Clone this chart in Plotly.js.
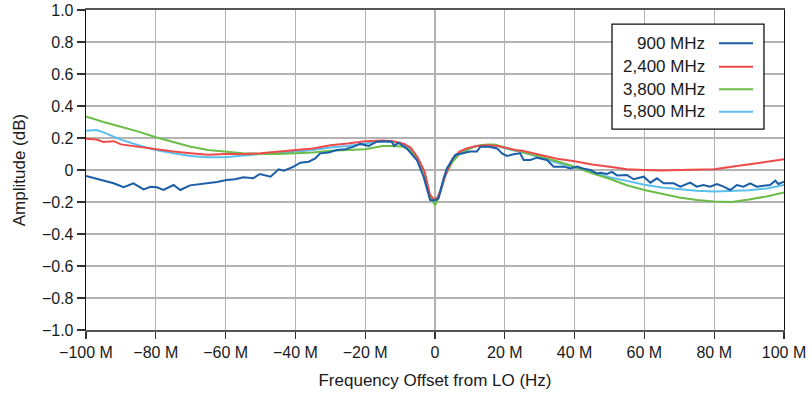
<!DOCTYPE html>
<html>
<head>
<meta charset="utf-8">
<script src="https://cdn.plot.ly/plotly-3.0.1.min.js"></script>
<style>
  html, body { margin: 0; padding: 0; background: #fff; }
  #chart { width: 812px; height: 395px; }
</style>
</head>
<body>
<div id="chart"></div>
<script>
// Flatness of the mixer response versus offset from the LO, per LO frequency.
// Offsets are in MHz; amplitudes in dB.

const seriesNames = ["900 MHz", "2,400 MHz", "3,800 MHz", "5,800 MHz"];
const seriesColors = ["#1b5ea8", "#ef4a4a", "#6cbd48", "#5cbeeb"];

const offset900 = [-100, -98, -95.9, -94, -92.1, -89.2, -86.4, -83.5, -81.5, -79.7, -77.8, -74.9, -73, -70.2, -67.8,
  -65.4, -62.5, -59.7, -57.3, -54.9, -52.1, -50.2, -47.1, -44.8, -43.3, -40.5, -38.6, -36.2, -34.3, -32.9, -30.5,
  -28.1, -25.7, -23.3, -21.4, -19, -16.7, -14.5, -12.4, -11.7, -10.5, -8.1, -5.2, -3.3, -1.4, 0, 1, 2.5, 3.4, 5.8,
  8.2, 10.1, 12, 13, 15.4, 17.8, 19.2, 20.6, 22.5, 24.4, 25.4, 27.3, 29.2, 32.1, 34, 36.9, 38.8, 40.7, 42.6, 44.5,
  46.4, 47.4, 49.3, 50.7, 52.2, 55, 56.9, 59.8, 61.7, 63.6, 65.5, 68.4, 70.3, 73.1, 75, 76.9, 78.8, 80.8, 82.7, 84.6,
  86.5, 88.4, 90.3, 92.2, 94.1, 96, 97.5, 98.4, 100];
const amp900 = [-0.038, -0.05, -0.062, -0.07, -0.083, -0.108, -0.083, -0.121, -0.105, -0.108, -0.125, -0.094, -0.125,
  -0.096, -0.09, -0.083, -0.075, -0.062, -0.058, -0.046, -0.052, -0.025, -0.042, 0.004, -0.004, 0.021, 0.046, 0.052,
  0.073, 0.104, 0.11, 0.125, 0.13, 0.146, 0.163, 0.15, 0.177, 0.18, 0.177, 0.15, 0.171, 0.135, 0.0625, -0.04, -0.1875,
  -0.19, -0.177, -0.05, 0.01, 0.094, 0.104, 0.115, 0.115, 0.146, 0.145, 0.135, 0.104, 0.0875, 0.098, 0.104, 0.0625,
  0.0625, 0.077, 0.0625, 0.021, 0.021, 0.01, 0.021, 0.008, 0, -0.021, -0.017, -0.025, -0.012, -0.035, -0.031, -0.058,
  -0.042, -0.079, -0.052, -0.083, -0.083, -0.104, -0.079, -0.104, -0.094, -0.104, -0.0875, -0.104, -0.125, -0.094,
  -0.104, -0.083, -0.104, -0.098, -0.094, -0.067, -0.0875, -0.073];

const offset2400 = [-100, -97, -95, -92, -90, -85, -80, -75, -70, -65, -60, -55, -50, -45, -40, -35, -30, -25, -20,
  -15, -12, -9, -7, -5, -3, -1.5, -0.5, 0.5, 1.5, 3, 5, 7, 9, 12, 15, 18, 20, 23, 25, 28, 30, 35, 40, 45, 50, 55, 60,
  65, 70, 75, 80, 85, 90, 95, 100];
const amp2400 = [0.195, 0.19, 0.175, 0.18, 0.16, 0.145, 0.13, 0.115, 0.105, 0.095, 0.1, 0.1, 0.105, 0.115, 0.125,
  0.135, 0.155, 0.165, 0.18, 0.185, 0.18, 0.165, 0.14, 0.08, -0.01, -0.15, -0.18, -0.18, -0.13, -0.03, 0.07, 0.115,
  0.135, 0.15, 0.155, 0.15, 0.14, 0.125, 0.12, 0.105, 0.095, 0.07, 0.055, 0.035, 0.02, 0.005, 0, -0.003, 0, 0, 0.004,
  0.02, 0.035, 0.05, 0.067];

const offset3800 = [-100, -95, -90, -85, -80, -75, -70, -65, -60, -55, -50, -45, -40, -35, -30, -25, -20, -15, -12,
  -9, -7, -5, -3, -1.5, -0.5, 0, 0.5, 1.5, 3, 5, 7, 9, 11, 13, 15, 17, 20, 25, 30, 35, 40, 45, 50, 55, 60, 65, 70, 75,
  80, 85, 90, 95, 100];
const amp3800 = [0.335, 0.3, 0.27, 0.24, 0.205, 0.175, 0.145, 0.125, 0.115, 0.105, 0.1, 0.1, 0.105, 0.11, 0.12, 0.125,
  0.13, 0.15, 0.15, 0.145, 0.12, 0.075, -0.02, -0.16, -0.2, -0.22, -0.2, -0.14, -0.03, 0.05, 0.1, 0.125, 0.145, 0.155,
  0.16, 0.16, 0.14, 0.11, 0.085, 0.055, 0.02, -0.02, -0.055, -0.095, -0.125, -0.15, -0.172, -0.187, -0.197, -0.2,
  -0.185, -0.165, -0.14];

const offset5800 = [-100, -97, -95, -92, -90, -85, -80, -75, -70, -65, -60, -55, -50, -45, -40, -35, -30, -25, -20,
  -15, -12, -9, -7, -5, -3, -1.5, -0.5, 0.5, 1.5, 3, 5, 7, 9, 12, 15, 18, 20, 25, 30, 35, 40, 45, 50, 55, 60, 65, 70,
  75, 80, 85, 90, 95, 100];
const amp5800 = [0.245, 0.25, 0.235, 0.21, 0.19, 0.155, 0.125, 0.105, 0.088, 0.08, 0.08, 0.09, 0.1, 0.105, 0.115,
  0.125, 0.14, 0.15, 0.165, 0.18, 0.175, 0.16, 0.13, 0.075, -0.02, -0.16, -0.19, -0.19, -0.14, -0.035, 0.06, 0.11,
  0.13, 0.15, 0.155, 0.15, 0.135, 0.11, 0.08, 0.045, 0.015, -0.015, -0.045, -0.068, -0.092, -0.11, -0.122, -0.13,
  -0.135, -0.133, -0.127, -0.115, -0.094];

const xTickVals = [-100, -80, -60, -40, -20, 0, 20, 40, 60, 80, 100];
const xTickText = ["\u2212100 M", "\u221280 M", "\u221260 M", "\u221240 M", "\u221220 M", "0",
  "20 M", "40 M", "60 M", "80 M", "100 M"];
const yTickVals = [1, 0.8, 0.6, 0.4, 0.2, 0, -0.2, -0.4, -0.6, -0.8, -1];
const yTickText = ["1.0", "0.8", "0.6", "0.4", "0.2", "0", "\u22120.2", "\u22120.4", "\u22120.6", "\u22120.8", "\u22121.0"];

const offsets = [offset900, offset2400, offset3800, offset5800];
const amps = [amp900, amp2400, amp3800, amp5800];

// Draw order: light blue under green under red, with 900 MHz on top.
const drawOrder = [3, 2, 1, 0];
const traces = drawOrder.map(i => ({
  type: "scatter",
  mode: "lines",
  name: seriesNames[i],
  x: offsets[i],
  y: amps[i],
  line: { color: seriesColors[i], width: 2 },
  showlegend: false,
  hoverinfo: "x+y+name"
}));

const family = "Liberation Sans, Arial, Helvetica, sans-serif";
const tickFont = { family: family, size: 16, color: "#1a1a1a" };
const labelFont = { family: family, size: 17, color: "#1a1a1a" };

// Legend box: label on the left, line sample on the right of each row.
const box = { x0: 0.7536, x1: 0.9713, y0: 0.628, y1: 0.956 };
const rowY = [0.896, 0.823, 0.752, 0.682];
const shapes = [{
  type: "rect", xref: "paper", yref: "paper",
  x0: box.x0, x1: box.x1, y0: box.y0, y1: box.y1,
  line: { color: "#111", width: 1.3 }, fillcolor: "#fff", layer: "above"
}];
const annotations = [];
seriesNames.forEach((name, i) => {
  shapes.push({
    type: "line", xref: "paper", yref: "paper",
    x0: 0.9069, x1: 0.9556, y0: rowY[i], y1: rowY[i],
    line: { color: seriesColors[i], width: 2 }, layer: "above"
  });
  annotations.push({
    xref: "paper", yref: "paper", x: 0.8897, y: rowY[i],
    xanchor: "right", yanchor: "middle", showarrow: false,
    text: name, font: labelFont
  });
});

const layout = {
  width: 812,
  height: 395,
  margin: { l: 86, r: 28, t: 10, b: 65 },
  paper_bgcolor: "#fff",
  plot_bgcolor: "#fff",
  font: tickFont,
  showlegend: false,
  xaxis: {
    range: [-100, 100],
    tickmode: "array",
    tickvals: xTickVals,
    ticktext: xTickText,
    ticks: "outside",
    ticklen: 7,
    tickwidth: 1.3,
    tickcolor: "#333",
    showgrid: true,
    gridcolor: "#b3b3b3",
    gridwidth: 1.3,
    zeroline: false,
    showline: true,
    linecolor: "#555",
    linewidth: 1.6,
    mirror: true,
    title: { text: "Frequency Offset from LO (Hz)", font: labelFont, standoff: 14 },
    tickfont: tickFont
  },
  yaxis: {
    range: [-1, 1],
    tickmode: "array",
    tickvals: yTickVals,
    ticktext: yTickText,
    ticks: "outside",
    ticklen: 8,
    tickwidth: 1.3,
    tickcolor: "#333",
    showgrid: true,
    gridcolor: "#b3b3b3",
    gridwidth: 1.3,
    zeroline: false,
    showline: true,
    linecolor: "#111",
    linewidth: 1.3,
    mirror: true,
    title: { text: "Amplitude (dB)", font: labelFont, standoff: 12 },
    tickfont: tickFont
  },
  shapes: shapes,
  annotations: annotations
};

Plotly.newPlot("chart", traces, layout, { displayModeBar: false, staticPlot: true });
</script>
</body>
</html>
